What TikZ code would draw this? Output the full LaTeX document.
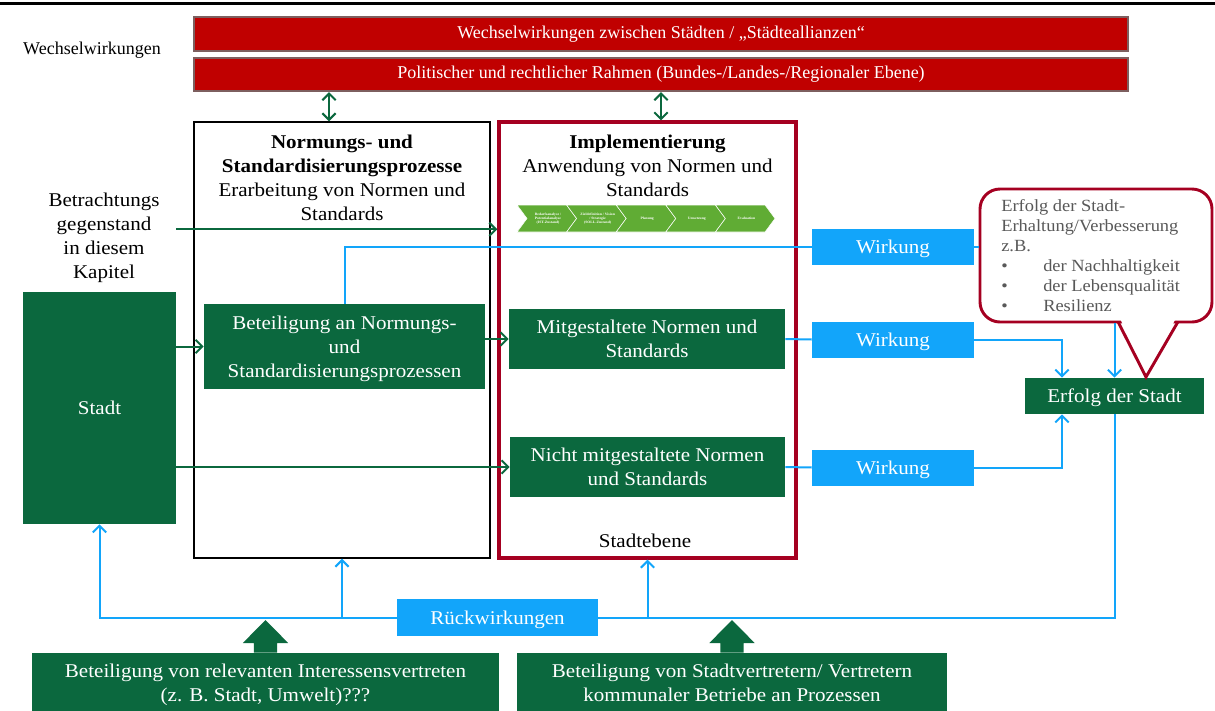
\documentclass[tikz,border=0pt]{standalone}
\usepackage{fontspec}
\setmainfont{Liberation Serif}[FakeStretch=1.08]
\newfontfamily\barfont{Liberation Serif}
\usetikzlibrary{arrows.meta,calc}
\definecolor{dgreen}{RGB}{11,104,62}
\definecolor{bblue}{RGB}{18,165,250}
\definecolor{dred}{RGB}{165,0,33}
\definecolor{barred}{RGB}{192,0,0}
\definecolor{barframe}{RGB}{125,95,95}
\definecolor{chev}{RGB}{96,172,52}
\definecolor{ctxt}{RGB}{89,89,89}
\begin{document}
\begin{tikzpicture}[x=0.75pt,y=-0.75pt,
  mainf/.style={font=\fontsize{14.6}{18}\selectfont},
  gbox/.style={fill=dgreen,text=white,inner sep=0pt,align=center,mainf,text depth=0pt},
  bbox/.style={fill=bblue,text=white,inner sep=0pt,align=center,mainf,text depth=0pt,minimum width=121.5pt,minimum height=27pt},
  bar/.style={fill=barred,draw=barframe,line width=1.5pt,text=white,font=\barfont\fontsize{13.5}{16}\selectfont,minimum width=700.5pt,minimum height=25pt,inner sep=0pt},
  bline/.style={draw=bblue,line width=1.5pt},
  barrow/.style={bline,-{Straight Barb[length=5pt,width=10pt]}},
  garrow/.style={draw=dgreen,line width=1.5pt,-{Straight Barb[length=5pt,width=10pt]}},
  gdarrow/.style={draw=dgreen,line width=1.5pt,{Straight Barb[length=5pt,width=10pt]}-{Straight Barb[length=5pt,width=10pt]}},
  chevtxt/.style={text=white,font=\bfseries\fontsize{2.6}{3}\selectfont,align=center,inner sep=0pt}
]
\useasboundingbox (0,0) rectangle (1215,711);
\fill[black] (0,1.7) rectangle (1215,5);

% top bars
\node[bar] (bar1) at (661,34) {Wechselwirkungen zwischen Städten / „Städteallianzen“};
\node[bar] (bar2) at (661,74.5) {Politischer und rechtlicher Rahmen (Bundes-/Landes-/Regionaler Ebene)};
\node[font=\barfont\fontsize{13.5}{16}\selectfont,inner sep=0pt] (wl) at (92,50) {Wechselwirkungen};

% big frames
\node[draw=black,line width=1.1pt,minimum width=222pt,minimum height=327pt] (norm) at (342,340) {};
\node[draw=dred,line width=2.5pt,minimum width=222.75pt,minimum height=327pt] (impl) at (647.5,340) {};

\node[anchor=north,align=center,mainf,inner sep=0pt] (normt) at (342,134.5)
  {\textbf{Normungs- und}\\\textbf{Standardisierungsprozesse}\\Erarbeitung von Normen und\\Standards};
\node[anchor=north,align=center,mainf,inner sep=0pt] (implt) at (647.5,134.5)
  {\textbf{Implementierung}\\Anwendung von Normen und\\Standards};
\node[mainf,inner sep=0pt] (ste) at (645,541) {Stadtebene};

% chevrons
\foreach \i/\t in {0/{Bedarfsanalyse /\\Potentialanalyse\\(IST-Zustand)},
                   1/{Zieldefinition / Vision\\/ Strategie\\(SOLL-Zustand)},
                   2/{Planung}, 3/{Umsetzung}, 4/{Evaluation}}{
  \pgfmathsetmacro\xa{517+\i*49.6}
  \filldraw[fill=chev,draw=white,line width=0.4pt] (\xa,205) -- ++(49.6,0) -- ++(10,13.5) -- ++(-10,13.5) -- ++(-49.6,0) -- ++(10,-13.5) -- cycle;
  \node[chevtxt] (ch\i) at (\xa+31,218.5) {\t};
}

% left text
\node[anchor=north,align=center,mainf,inner sep=0pt] (betr) at (104,193) {Betrachtungs\\gegenstand\\in diesem\\Kapitel};
\coordinate (gs) at (176,229.3);

% boxes
\node[gbox,minimum width=114.75pt,minimum height=174pt] (stadt) at (99.5,408) {Stadt};
\node[gbox,minimum width=210.75pt,minimum height=63.75pt] (beteil) at (344.5,346.5) {Beteiligung an Normungs-\\und\\Standardisierungsprozessen};
\node[gbox,minimum width=207pt,minimum height=45pt] (mitg) at (647,339) {Mitgestaltete Normen und\\Standards};
\node[gbox,minimum width=206.25pt,minimum height=45pt] (nicht) at (647.5,467) {Nicht mitgestaltete Normen\\und Standards};
\node[bbox] (w1) at (893,247) {Wirkung};
\node[bbox] (w2) at (893,339.5) {Wirkung};
\node[bbox] (w3) at (893,467.5) {Wirkung};
\node[gbox,minimum width=134.25pt,minimum height=27pt] (erfolg) at (1114.5,396) {Erfolg der Stadt};
\node[bbox,minimum width=150.75pt,minimum height=27.75pt] (rueck) at (497.5,617.5) {Rückwirkungen};
\node[gbox,minimum width=350.25pt,minimum height=45pt] (b1) at (265.5,683) {Beteiligung von relevanten Interessensvertreten\\(z. B. Stadt, Umwelt)???};
\node[gbox,minimum width=322.5pt,minimum height=45pt] (b2) at (732,683) {Beteiligung von Stadtvertretern/ Vertretern\\kommunaler Betriebe an Prozessen};

% callout
\node[draw=dred,line width=2.2pt,rounded corners=15pt,fill=white,minimum width=174pt,minimum height=99.75pt] (call) at (1096,255.5) {};
\fill[white] (1119,316) -- (1146,377) -- (1177,316) -- cycle;
\draw[dred,line width=2.2pt] (1118,321.7) -- (1146,377) -- (1178,321.7);
\node[anchor=north west,align=left,inner sep=0pt,text=ctxt,font=\fontsize{12.8}{15}\selectfont] (ctext) at (1001,199)
  {Erfolg der Stadt-\\Erhaltung/Verbesserung\\z.B.\\\makebox[31.5pt][l]{•}der Nachhaltigkeit\\\makebox[31.5pt][l]{•}der Lebensqualität\\\makebox[31.5pt][l]{•}Resilienz};

% green connectors
\draw[garrow] (gs) -- (gs -| impl.west);
\draw[garrow] (stadt.east |- beteil.west) -- (beteil.west);
\draw[garrow] (beteil.east |- mitg.west) -- (mitg.west);
\draw[garrow] (stadt.east |- nicht.west) -- (nicht.west);
\coordinate (da) at (329,100);
\coordinate (db) at (661,100);
\draw[gdarrow] (da |- bar2.south) -- (da |- norm.north);
\draw[gdarrow] (db |- bar2.south) -- (db |- impl.north);

% blue connectors
\draw[bline] (beteil.north) |- (w1.west);
\draw[bline] (w1.east) -- (w1.east -| call.west);
\draw[bline] (mitg.east) -- (w2.west);
\draw[bline] (nicht.east) -- (w3.west);
\coordinate (ej) at (1062,396);
\draw[barrow] (w2.east) -| (ej |- erfolg.north);
\draw[barrow] (w3.east) -| (ej |- erfolg.south);
\draw[barrow] (erfolg.north |- call.south) -- (erfolg.north);
\draw[bline] (erfolg.south) |- (rueck.east);
\draw[barrow] (rueck.west) -| (stadt.south);
\draw[barrow] (norm.south |- rueck.west) -- (norm.south);
\draw[barrow] (impl.south |- rueck.west) -- (impl.south);

% block arrows
\fill[dgreen] (b1.north) ++(-11.7,0) -- ++(0,-9.7) -- ++(-11,0) -- ++(22.7,-23) -- ++(22.7,23) -- ++(-11,0) -- ++(0,9.7) -- cycle;
\fill[dgreen] (b2.north) ++(-11.7,0) -- ++(0,-9.7) -- ++(-11,0) -- ++(22.7,-23) -- ++(22.7,23) -- ++(-11,0) -- ++(0,9.7) -- cycle;
\end{tikzpicture}
\end{document}
